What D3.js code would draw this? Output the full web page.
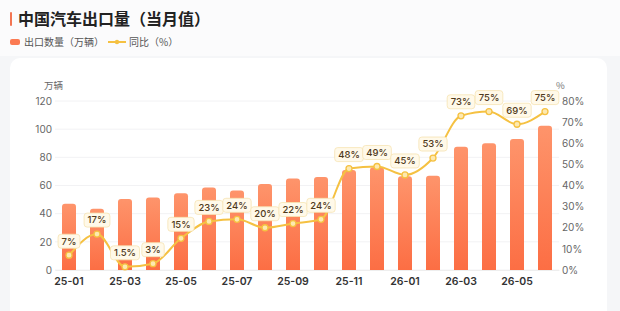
<!DOCTYPE html>
<html>
<head>
<meta charset="utf-8">
<script src="https://cdn.jsdelivr.net/npm/d3@7"></script>
<style>
  html, body { margin: 0; padding: 0; background: #f5f6f8; }
  body { width: 620px; height: 311px; overflow: hidden; font-family: "Noto Sans CJK SC", "Noto Sans", sans-serif; }
</style>
</head>
<body>
<svg id="chart" width="620" height="311"></svg>
<script>
// months and values
const months = ['25-01','25-02','25-03','25-04','25-05','25-06','25-07','25-08','25-09','25-10','25-11','25-12','26-01','26-02','26-03','26-04','26-05','26-06']
const exportVol = [47, 43.5, 50.5, 51.5, 54.5, 58.5, 56.5, 61, 65, 66, 71, 73, 66.5, 67, 87.5, 90, 93, 102.5]
const yoy = [7, 17, 1.5, 3, 15, 23, 24, 20, 22, 24, 48, 49, 45, 53, 73, 75, 69, 75]
const leftTicks = [0, 20, 40, 60, 80, 100, 120]
const rightTicks = [0, 10, 20, 30, 40, 50, 60, 70, 80]

const svg = d3.select('#chart')
const W = 620, H = 311
const margin = { top: 101, left: 55, right: 61, bottom: 41 }

let defs = svg.append('defs')
let grad = defs.append('linearGradient').attr('id', 'barGrad')
  .attr('x1', 0).attr('y1', 0).attr('x2', 0).attr('y2', 1)
grad.append('stop').attr('offset', '0%').attr('stop-color', '#fe946b')
grad.append('stop').attr('offset', '100%').attr('stop-color', '#fc6e44')

// header + card
svg.append('rect').attr('x', 0).attr('y', 0).attr('width', W).attr('height', 56).attr('fill', '#fbfbfc')
svg.append('rect').attr('x', 10).attr('y', 58).attr('width', 597).attr('height', 280)
  .attr('rx', 10).attr('fill', '#fff')

svg.append('rect').attr('x', 10).attr('y', 12).attr('width', 2).attr('height', 14)
  .attr('rx', 1).attr('fill', '#f37552')
svg.append('text').attr('x', 18).attr('y', 24.5)
  .attr('font-size', 16).attr('font-weight', 700).attr('fill', '#222')
  .text('中国汽车出口量（当月值）')

// legend
svg.append('rect').attr('x', 10).attr('y', 39).attr('width', 10).attr('height', 6)
  .attr('rx', 2).attr('fill', '#fb7a52')
svg.append('text').attr('x', 24).attr('y', 46).attr('font-size', 10).attr('fill', '#555')
  .text('出口数量（万辆）')
svg.append('line').attr('x1', 108).attr('x2', 126).attr('y1', 42).attr('y2', 42)
  .attr('stroke', '#f5c142').attr('stroke-width', 2)
svg.append('circle').attr('cx', 117).attr('cy', 42).attr('r', 2.2).attr('fill', '#f5c142')
svg.append('text').attr('x', 129).attr('y', 46).attr('font-size', 10).attr('fill', '#555')
  .text('同比（%）')

let x = d3.scaleBand().domain(months).range([margin.left, W - margin.right]).paddingInner(0.5).paddingOuter(0.25)
let y = d3.scaleLinear().domain([0, 120]).range([H - margin.bottom, margin.top])
let y2 = d3.scaleLinear().domain([0, 80]).range([H - margin.bottom, margin.top])

// grid
svg.append('g').selectAll('line').data(leftTicks).enter().append('line')
  .attr('x1', margin.left).attr('x2', W - margin.right)
  .attr('y1', d => y(d)).attr('y2', d => y(d))
  .attr('stroke', '#f2f2f4').attr('stroke-width', 1)

// left axis
let gl = svg.append('g').attr('transform', `translate(${margin.left - 3},0)`)
  .call(d3.axisLeft(y).tickValues(leftTicks).tickSize(0).tickPadding(0))
gl.select('.domain').remove()
gl.selectAll('text').attr('font-size', 10).attr('fill', '#666').attr('font-family', 'Inter, "Noto Sans", sans-serif')
svg.append('text').attr('x', 63).attr('y', 89).attr('text-anchor', 'end')
  .attr('font-size', 9.5).attr('fill', '#666').text('万辆')

// right axis
let gr = svg.append('g').attr('transform', `translate(${W - margin.right + 3},0)`)
  .call(d3.axisRight(y2).tickValues(rightTicks).tickSize(0).tickPadding(0).tickFormat(d => d + '%'))
gr.select('.domain').remove()
gr.selectAll('text').attr('font-size', 10).attr('fill', '#666').attr('font-family', 'Inter, "Noto Sans", sans-serif')
svg.append('text').attr('x', 556).attr('y', 89)
  .attr('font-size', 9.5).attr('fill', '#777').text('%')

// bottom axis
let gb = svg.append('g').attr('transform', `translate(0,${H - margin.bottom})`)
  .call(d3.axisBottom(x).tickValues(months.filter((d, i) => i % 2 == 0)).tickSize(0).tickPadding(8))
gb.select('.domain').attr('stroke', '#eee')
gb.selectAll('text').attr('font-size', 10.5).attr('font-weight', 600).attr('fill', '#333')
  .attr('font-family', 'Inter, "Noto Sans", sans-serif')

// bars with rounded tops
let r = 3
svg.append('g').selectAll('path').data(exportVol).enter().append('path')
  .attr('fill', 'url(#barGrad)')
  .attr('d', (d, i) => {
    let x0 = x(months[i]), w = x.bandwidth(), top = y(d), bot = y(0)
    return `M${x0},${bot}V${top + r}Q${x0},${top} ${x0 + r},${top}H${x0 + w - r}Q${x0 + w},${top} ${x0 + w},${top + r}V${bot}Z`
  })

// yoy line
let cx = (d, i) => x(months[i]) + x.bandwidth() / 2
let line = d3.line().x(cx).y(d => y2(d)).curve(d3.curveMonotoneX)
svg.append('path').datum(yoy).attr('d', line)
  .attr('fill', 'none').attr('stroke', '#f5c142').attr('stroke-width', 2)
svg.append('g').selectAll('circle').data(yoy).enter().append('circle')
  .attr('cx', cx).attr('cy', d => y2(d)).attr('r', 3)
  .attr('fill', '#fde9b0').attr('stroke', '#f5c142').attr('stroke-width', 1.3)

// value labels
let lab = svg.append('g').selectAll('g').data(yoy).enter().append('g')
  .attr('transform', (d, i) => `translate(${cx(d, i)},${y2(d) - 14})`)
lab.append('text')
  .attr('text-anchor', 'middle').attr('dy', '0.35em')
  .attr('font-size', 9.5).attr('font-weight', 500).attr('fill', '#4f3a1c')
  .attr('font-family', 'Inter, "Noto Sans", sans-serif')
  .text(d => d + '%')
lab.each(function () {
  let g = d3.select(this)
  let bb = g.select('text').node().getBBox()
  let w = Math.max(bb.width + 7, 21)
  g.insert('rect', 'text')
    .attr('x', -w / 2).attr('y', -7).attr('width', w).attr('height', 14)
    .attr('rx', 3).attr('fill', '#fff9e9').attr('stroke', '#f6e3b3').attr('stroke-width', 0.8)
})
</script>
</body>
</html>
